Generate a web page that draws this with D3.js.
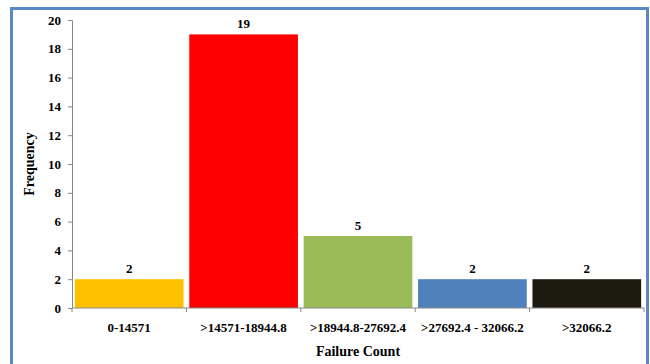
<!DOCTYPE html>
<html>
<head>
<meta charset="utf-8">
<script src="https://cdn.jsdelivr.net/npm/d3@7"></script>
<style>
body { margin: 0; background: #fff; }
</style>
</head>
<body>
<svg id="chart" width="650" height="364"></svg>
<script>
// data
const categories = ["0-14571", ">14571-18944.8", ">18944.8-27692.4", ">27692.4 - 32066.2", ">32066.2"];
const frequencies = [2, 19, 5, 2, 2];
const barColors = ["#FFC000", "#FF0000", "#9BBB59", "#4F81BD", "#1D1B10"];
const yTicks = [0, 2, 4, 6, 8, 10, 12, 14, 16, 18, 20];

let width = 650;
let height = 364;
let margin = {left: 72, right: 6, top: 20, bottom: 56};
let serif = "'Liberation Serif', 'Times New Roman', Times, 'DejaVu Serif', serif";

let svg = d3.select("#chart")
    .style("font-family", serif)
    .style("font-weight", "bold");

// frame around the chart
svg.append("rect")
    .attr("x", 11.5)
    .attr("y", 8.5)
    .attr("width", 636)
    .attr("height", 370)
    .attr("fill", "none")
    .attr("stroke", "#5B87C4")
    .attr("stroke-width", 3);

let xScale = d3.scaleBand()
    .domain(categories)
    .range([margin.left, width - margin.right])
    .paddingInner(0.05)
    .paddingOuter(0.025);

let yScale = d3.scaleLinear()
    .domain([0, 20])
    .range([height - margin.bottom, margin.top]);

//draw bars
svg.append("g").selectAll("rect")
    .data(frequencies)
    .enter().append("rect")
    .attr("x", (d, i) => xScale(categories[i]))
    .attr("y", d => yScale(d))
    .attr("width", xScale.bandwidth())
    .attr("height", d => yScale(0) - yScale(d))
    .attr("fill", (d, i) => barColors[i]);

//value labels
svg.append("g").selectAll("text")
    .data(frequencies)
    .enter().append("text")
    .attr("x", (d, i) => xScale(categories[i]) + xScale.bandwidth() / 2)
    .attr("y", d => yScale(d) - 6)
    .attr("text-anchor", "middle")
    .style("font-size", "13px")
    .text(d => d);

//y axis
let yAxis = d3.axisLeft(yScale).tickValues(yTicks).tickSize(4).tickPadding(7);
let yg = svg.append("g")
    .attr("transform", "translate(" + margin.left + ",0)")
    .call(yAxis)
    .attr("font-family", null)
    .attr("font-size", null);
yg.selectAll("text").style("font-size", "13px").attr("fill", "#000");
yg.selectAll("line, path").attr("stroke", "#888");

//x axis: ticks at the band boundaries
let xg = svg.append("g")
    .attr("transform", "translate(0," + yScale(0) + ")");
xg.append("line")
    .attr("x1", margin.left).attr("x2", width - margin.right)
    .attr("stroke", "#888");
let bounds = categories.map(c => xScale(c) - xScale.step() * xScale.paddingInner() / 2);
bounds.push(width - margin.right);
xg.selectAll(".tk")
    .data(bounds)
    .enter().append("line")
    .attr("class", "tk")
    .attr("x1", d => d).attr("x2", d => d)
    .attr("y1", 0).attr("y2", 4)
    .attr("stroke", "#888");
xg.selectAll(".lbl")
    .data(categories)
    .enter().append("text")
    .attr("class", "lbl")
    .attr("x", d => xScale(d) + xScale.bandwidth() / 2)
    .attr("y", 24)
    .attr("text-anchor", "middle")
    .style("font-size", "13px")
    .text(d => d);

//axis titles
svg.append("text")
    .attr("x", (margin.left + width - margin.right) / 2)
    .attr("y", 356)
    .attr("text-anchor", "middle")
    .style("font-size", "14px")
    .text("Failure Count");

svg.append("text")
    .attr("transform", "translate(34," + yScale(10) + ") rotate(-90)")
    .attr("text-anchor", "middle")
    .style("font-size", "14px")
    .text("Frequency");
</script>
</body>
</html>
